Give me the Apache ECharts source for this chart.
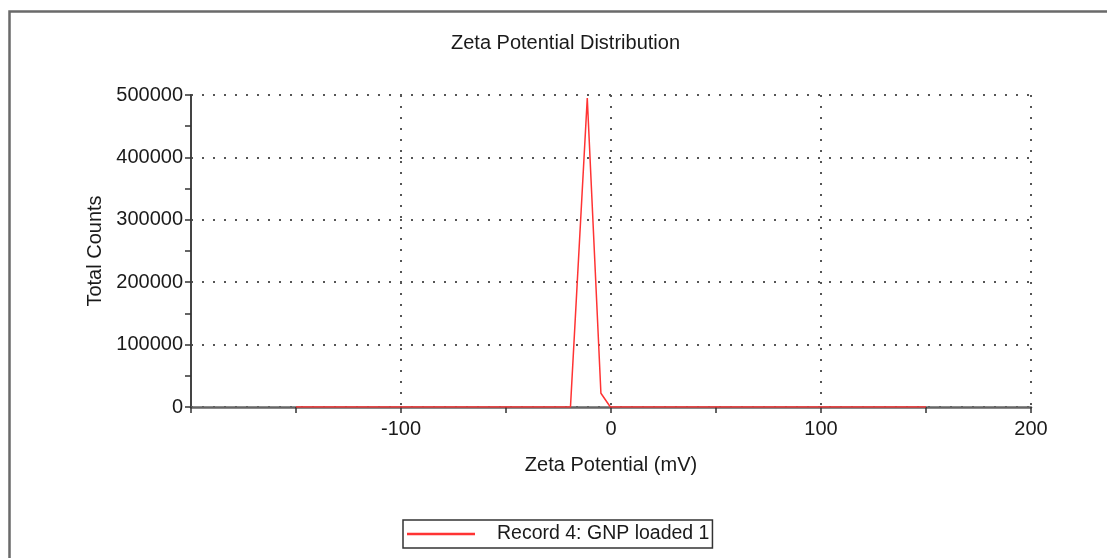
<!DOCTYPE html>
<html>
<head>
<meta charset="utf-8">
<script src="https://cdn.jsdelivr.net/npm/echarts@6/dist/echarts.min.js"></script>
<style>
  html, body { margin: 0; padding: 0; background: #fff; }
  #chart { width: 1107px; height: 558px; }
</style>
</head>
<body>
<div id="chart"></div>
<script>
  // zeta potential (mV) and total counts
  const zeta = [-150, -19.3, -11.3, -4.8, -0.3, 150];
  const counts = [0, 0, 495000, 22000, 0, 0];
  const seriesName = 'Record 4: GNP loaded 1';

  const font = "'Liberation Sans', Arial, sans-serif";
  const txt = '#1a1a1a';

  const myChart = echarts.init(document.getElementById('chart'));

  const option = {
    backgroundColor: '#fff',
    animation: false,
    title: {
      text: 'Zeta Potential Distribution',
      left: 446,
      top: 28,
      textStyle: { fontFamily: font, fontSize: 20, fontWeight: 'normal', color: txt }
    },
    graphic: [{
      type: 'rect',
      left: 7, top: 9,
      shape: { width: 1200, height: 700 },
      style: { fill: 'none', stroke: '#6a6a6a', lineWidth: 2.5 },
      silent: true
    }],
    grid: { left: 191, right: 76, top: 95, bottom: 151 },
    legend: {
      data: [seriesName],
      left: 403,
      top: 520,
      padding: [4, 3, 4, 4],
      borderColor: '#333',
      borderWidth: 1.5,
      icon: 'rect',
      itemWidth: 68,
      itemHeight: 2.5,
      textStyle: { fontFamily: font, fontSize: 19.5, color: txt, lineHeight: 20, padding: [0, 0, 0, 17] }
    },
    xAxis: {
      type: 'value',
      min: -200,
      max: 200,
      interval: 100,
      name: 'Zeta Potential (mV)',
      nameLocation: 'middle',
      nameGap: 48,
      nameTextStyle: { fontFamily: font, fontSize: 20, color: txt },
      axisLine: { onZero: false, lineStyle: { color: '#666', width: 2.5 } },
      axisTick: { length: 6, lineStyle: { color: '#333', width: 1.5 } },
      minorTick: { show: true, splitNumber: 2, length: 6, lineStyle: { color: '#333', width: 1.5 } },
      axisLabel: { showMinLabel: false, margin: 12, fontFamily: font, fontSize: 20, color: txt },
      splitLine: { show: true, lineStyle: { type: [2, 9], color: '#555', width: 2 } }
    },
    yAxis: {
      type: 'value',
      min: 0,
      max: 500000,
      interval: 100000,
      name: 'Total Counts',
      nameLocation: 'middle',
      nameGap: 84,
      nameTextStyle: { fontFamily: font, fontSize: 20, color: txt },
      axisLine: { show: true, onZero: false, lineStyle: { color: '#444', width: 2 } },
      axisTick: { show: true, length: 6, lineStyle: { color: '#333', width: 1.5 } },
      minorTick: { show: true, splitNumber: 2, length: 6, lineStyle: { color: '#333', width: 1.5 } },
      axisLabel: { margin: 8, fontFamily: font, fontSize: 20, color: txt, formatter: v => String(v) },
      splitLine: { show: true, lineStyle: { type: [2, 9], color: '#555', width: 2 } }
    },
    series: [{
      name: seriesName,
      type: 'line',
      symbol: 'none',
      color: '#ff3333',
      lineStyle: { color: '#ff3333', width: 1.5 },
      data: zeta.map((x, i) => [x, counts[i]])
    }]
  };

  myChart.setOption(option);
</script>
</body>
</html>
